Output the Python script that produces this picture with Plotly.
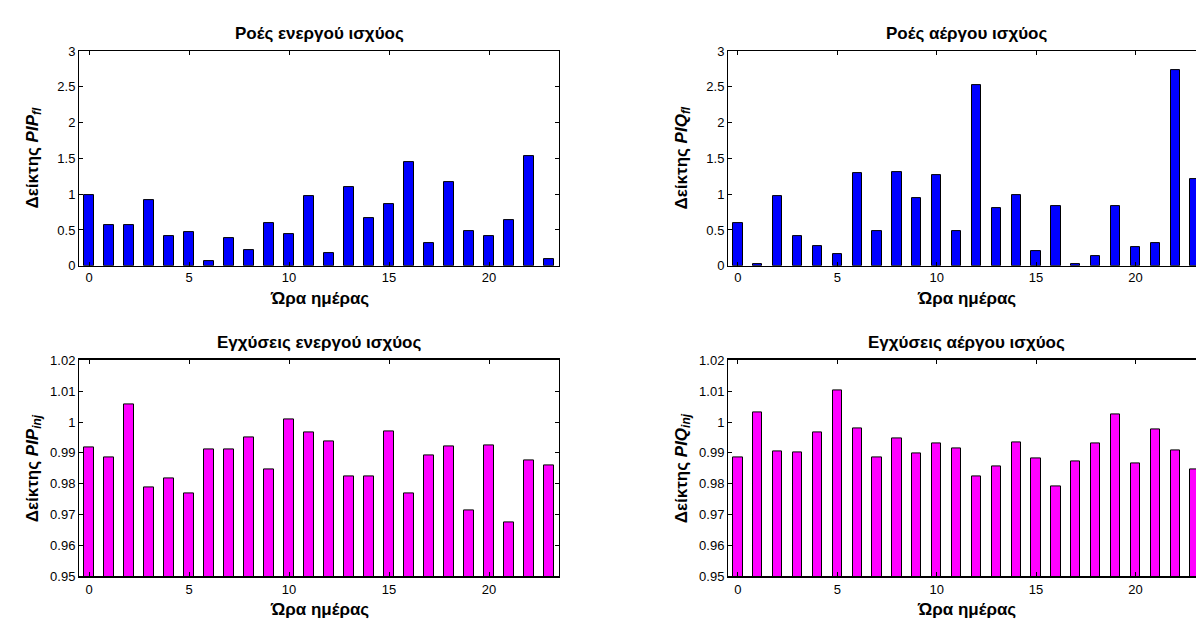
import plotly.graph_objects as go

hours = list(range(24))

pip_fl = [0.99, 0.57, 0.57, 0.92, 0.42, 0.47, 0.06, 0.38, 0.22, 0.59, 0.44, 0.98,
          0.18, 1.10, 0.67, 0.86, 1.45, 0.32, 1.17, 0.48, 0.42, 0.64, 1.53, 0.10]
piq_fl = [0.60, 0.03, 0.98, 0.42, 0.28, 0.16, 1.30, 0.48, 1.31, 0.95, 1.27, 0.48,
          2.52, 0.80, 0.99, 0.20, 0.83, 0.03, 0.13, 0.83, 0.26, 0.31, 2.74, 1.21]
pip_inj = [0.9917, 0.9886, 1.0056, 0.9788, 0.9816, 0.9768, 0.9910, 0.9910, 0.9950,
           0.9845, 1.0008, 0.9965, 0.9937, 0.9822, 0.9825, 0.9968, 0.9768, 0.9893,
           0.9920, 0.9713, 0.9923, 0.9673, 0.9876, 0.9859]
piq_inj = [0.9886, 1.0032, 0.9904, 0.9900, 0.9965, 1.0103, 0.9978, 0.9886, 0.9948,
           0.9897, 0.9931, 0.9914, 0.9825, 0.9856, 0.9934, 0.9883, 0.9791, 0.9873,
           0.9931, 1.0026, 0.9866, 0.9975, 0.9908, 0.9846]

titles = ["Ροές ενεργού ισχύος", "Ροές αέργου ισχύος",
          "Εγχύσεις ενεργού ισχύος", "Εγχύσεις αέργου ισχύος"]
ytitles = ["<b>Δείκτης <i>PIP</i><sub><i>fl</i></sub></b>",
           "<b>Δείκτης <i>PIQ</i><sub><i>fl</i></sub></b>",
           "<b>Δείκτης <i>PIP</i><sub><i>inj</i></sub></b>",
           "<b>Δείκτης <i>PIQ</i><sub><i>inj</i></sub></b>"]
xtitle = "<b>Ώρα ημέρας</b>"
xticks = [0, 5, 10, 15, 20]
yticks_fl = [0, 0.5, 1, 1.5, 2, 2.5, 3]
ytick_fl_text = ["0", "0.5", "1", "1.5", "2", "2.5", "3"]
yticks_inj = [0.95, 0.96, 0.97, 0.98, 0.99, 1.0, 1.01, 1.02]
ytick_inj_text = ["0.95", "0.96", "0.97", "0.98", "0.99", "1", "1.01", "1.02"]

W, H = 1204, 619
FONT = "Liberation Sans, Arial, sans-serif"

# pixel boxes: (left, right, top, bottom)
boxes = [(71, 551, 37, 257), (720, 1197, 37, 257),
         (71, 551, 354, 575), (720, 1197, 354, 575)]
series = [pip_fl, piq_fl, pip_inj, piq_inj]
colors = ["#0000FF", "#0000FF", "#FF00FF", "#FF00FF"]

fig = go.Figure()
layout = {}
annotations = []
for i in range(4):
    n = "" if i == 0 else str(i + 1)
    l, r, t, b = boxes[i]
    fig.add_trace(go.Bar(
        x=hours, y=series[i], width=0.47,
        marker=dict(color=colors[i], line=dict(color="black", width=1)),
        xaxis="x" + n, yaxis="y" + n, showlegend=False))
    inj = i >= 2
    layout["xaxis" + n] = dict(
        domain=[l / W, r / W], anchor="y" + n, range=[-0.5, 23.5],
        tickvals=xticks, ticktext=[str(v) for v in xticks],
        ticks="inside", ticklen=4, tickcolor="black", showline=True,
        linecolor="black", linewidth=2 if inj else 1, mirror="ticks",
        showgrid=False, zeroline=False,
        tickfont=dict(family=FONT, size=13, color="black"))
    layout["yaxis" + n] = dict(
        domain=[1 - b / H, 1 - t / H], anchor="x" + n,
        range=[0.95, 1.02] if inj else [0, 3],
        tickvals=yticks_inj if inj else yticks_fl,
        ticktext=ytick_inj_text if inj else ytick_fl_text,
        ticks="inside", ticklen=4, tickcolor="black", showline=True,
        linecolor="black", linewidth=1, mirror="ticks",
        showgrid=False, zeroline=False,
        tickfont=dict(family=FONT, size=13, color="black"))
    cx = (l + r) / 2
    common = dict(xref="paper", yref="paper", showarrow=False,
                  xanchor="center", yanchor="middle")
    annotations.append(dict(text="<b>" + titles[i] + "</b>", x=cx / W, y=1 - (t - 18) / H,
                            font=dict(family=FONT, size=17, color="black"), **common))
    annotations.append(dict(text=xtitle, x=cx / W, y=1 - (b + 34) / H,
                            font=dict(family=FONT, size=17, color="black"), **common))
    annotations.append(dict(text=ytitles[i], x=(l - 45) / W, y=1 - ((t + b) / 2) / H,
                            textangle=-90,
                            font=dict(family=FONT, size=17, color="black"), **common))

fig.update_layout(width=W, height=H, margin=dict(l=0, r=0, t=0, b=0),
                  paper_bgcolor="white", plot_bgcolor="white",
                  annotations=annotations, bargap=0, **layout)
fig.write_html("out.html")
